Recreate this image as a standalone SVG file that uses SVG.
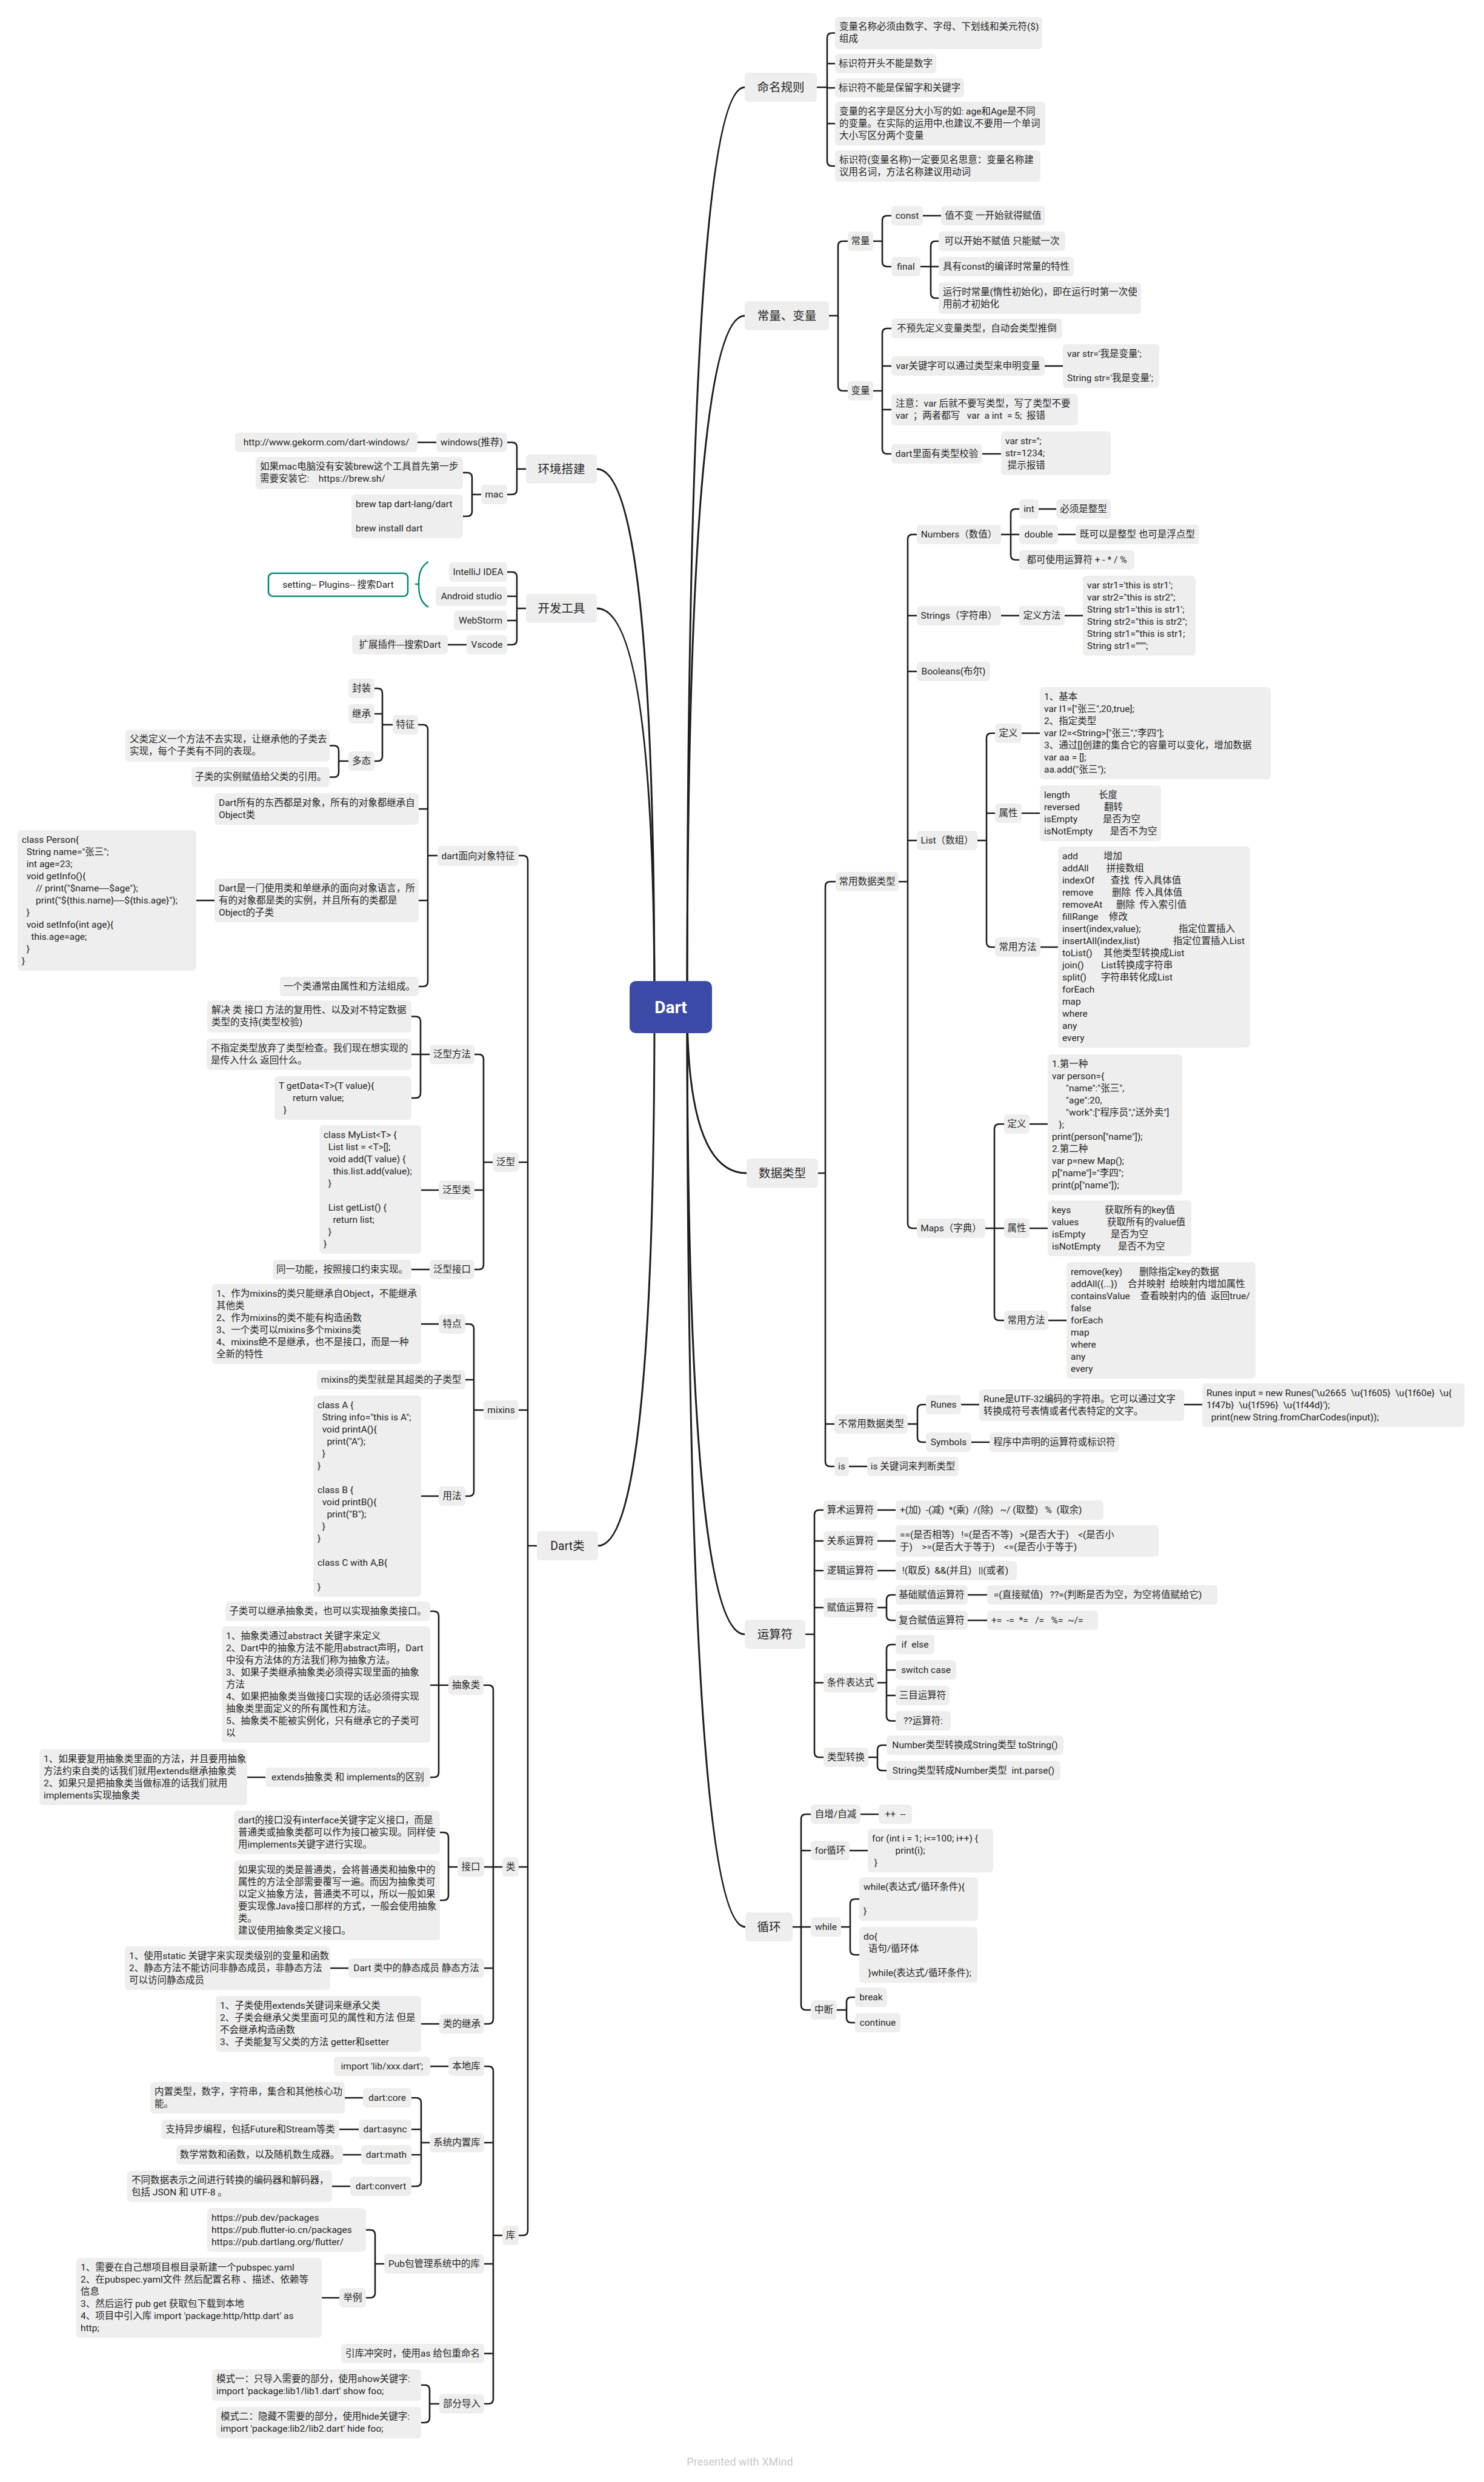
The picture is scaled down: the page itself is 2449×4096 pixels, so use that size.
<svg xmlns="http://www.w3.org/2000/svg" width="2449" height="4096" viewBox="0 0 2449 4096">
<style>
.nodes rect{fill:#eeeeee;rx:6px;ry:6px}
text{font-family:Roboto,"Noto Sans CJK SC",sans-serif;font-size:15.5px;fill:#262626;white-space:pre}
.c{text-anchor:middle}
.l1 text{font-size:19.5px;text-anchor:middle}
.conn path{fill:none;stroke:#1e1e1e;stroke-width:2.6;stroke-linecap:round;stroke-linejoin:round}
.conn .main{stroke-width:3}
</style>
<rect x="0" y="0" width="2449" height="4096" fill="#ffffff"/>
<g class="conn" id="connectors">
<path class="main" d="M1134,1662Q1134,144 1229,144"/>
<path class="main" d="M1134,1662Q1134,521 1229,521"/>
<path class="main" d="M1134,1662Q1134,1936 1232,1936"/>
<path class="main" d="M1134,1662Q1134,2697 1229,2697"/>
<path class="main" d="M1134,1662Q1134,3180 1230,3180"/>
<path class="main" d="M1080,1662Q1080,774 985,774"/>
<path class="main" d="M1080,1662Q1080,1004 985,1004"/>
<path class="main" d="M1080,1662Q1080,2551 987,2551"/>
<path d="M1348,144H1365M1378,54.5H1373Q1365,54.5 1365,62.5V266Q1365,274 1373,274H1378M1365,105H1378M1365,145H1378M1365,204H1378"/>
<path d="M1368,521H1383M1399,398H1391Q1383,398 1383,406V637Q1383,645 1391,645H1399"/>
<path d="M1441,398H1456M1471,356H1464Q1456,356 1456,364V432Q1456,440 1464,440H1471"/>
<path d="M1523,356H1553"/>
<path d="M1519,440H1536M1549,398H1544Q1536,398 1536,406V484Q1536,492 1544,492H1549M1536,440H1549"/>
<path d="M1441,645H1456M1471,542H1464Q1456,542 1456,550V741Q1456,749 1464,749H1471M1456,604H1471M1456,676H1471"/>
<path d="M1724,604H1754M1621,749H1652"/>
<path d="M1350,1936H1362M1379,1455H1370Q1362,1455 1362,1463V2412Q1362,2420 1370,2420H1377M1362,2350H1377"/>
<path d="M1483,1455H1498M1513,882H1506Q1498,882 1498,890V2019Q1498,2027 1506,2027H1513M1498,1016H1513M1498,1108H1513M1498,1387H1513"/>
<path d="M1652,882H1682M1682,840H1676Q1668,840 1668,848V916Q1668,924 1676,924H1682"/>
<path d="M1714,840H1743M1746,882H1775M1652,1016H1682M1757,1016H1787"/>
<path d="M1613,1387H1628M1642,1210H1636Q1628,1210 1628,1218V1555Q1628,1563 1636,1563H1642M1628,1342H1642"/>
<path d="M1686,1210H1716M1686,1342H1716M1717,1563H1746"/>
<path d="M1626,2027H1657M1657,1855H1649Q1641,1855 1641,1863V2171Q1641,2179 1649,2179H1657"/>
<path d="M1699,1855H1729M1699,2027H1729M1730,2179H1760"/>
<path d="M1498,2350H1514M1528,2318H1522Q1514,2318 1514,2326V2372Q1514,2380 1522,2380H1528"/>
<path d="M1586,2318H1616M1954,2318H1984M1603,2380H1633M1401,2420H1431"/>
<path d="M1330,2697H1344M1359,2492H1352Q1344,2492 1344,2500V2892Q1344,2900 1352,2900H1359M1344,2543H1359M1344,2592H1359M1344,2653H1359M1344,2777H1359"/>
<path d="M1448,2492H1478M1448,2543H1478M1448,2592H1478"/>
<path d="M1448,2653H1463M1478,2632H1471Q1463,2632 1463,2640V2666Q1463,2674 1471,2674H1478M1597,2632H1629M1597,2674H1629"/>
<path d="M1448,2777H1463M1478,2714H1471Q1463,2714 1463,2722V2832Q1463,2840 1471,2840H1478M1463,2756H1478M1463,2798H1478"/>
<path d="M1433,2900H1448M1463,2880H1456Q1448,2880 1448,2888V2914Q1448,2922 1456,2922H1463"/>
<path d="M1308,3180H1338M1338,2994H1330Q1322,2994 1322,3002V3309Q1322,3317 1330,3317H1338M1322,3054H1338"/>
<path d="M1420,2994H1450M1402,3054H1432"/>
<path d="M1388,3180H1403M1418,3134H1411Q1403,3134 1403,3142V3218Q1403,3226 1411,3226H1418"/>
<path d="M1381,3317H1397M1411,3296H1405Q1397,3296 1397,3304V3330Q1397,3338 1405,3338H1411"/>
<path d="M868,774H853M837,730H845Q853,730 853,738V808Q853,816 845,816H837M720,730H689"/>
<path d="M794,816H779M764,780H771Q779,780 779,788V844Q779,852 771,852H764"/>
<path d="M868,1004H853M837,944H845Q853,944 853,952V1056Q853,1064 845,1064H837M853,984H837M853,1024H837M770,1064H739"/>
<path d="M886,2551H871M856,1412H863Q871,1412 871,1420V3681Q871,3689 863,3689H856M871,1918H856M871,2327H856M871,3081H856"/>
<path d="M722,1412H706M690,1196H698Q706,1196 706,1204V1620Q706,1628 698,1628H691M706,1335H691M706,1486H691"/>
<path d="M648,1196H631M618,1136H623Q631,1136 631,1144V1248Q631,1256 623,1256H618M631,1178H618"/>
<path d="M575,1256H559M544,1230.5H551Q559,1230.5 559,1238.5V1274.5Q559,1282.5 551,1282.5H544M354,1486H324"/>
<path d="M813,1918H798M783,1740H790Q798,1740 798,1748V2087Q798,2095 790,2095H783M798,1964H783"/>
<path d="M709,1740H679M679,1677.5H686Q694,1677.5 694,1685.5V1804Q694,1812 686,1812H679M724,1964H695M709,2095H679"/>
<path d="M798,2327H782M768,2185H774Q782,2185 782,2193V2461Q782,2469 774,2469H768M782,2277H768M724,2185H695M724,2469H695"/>
<path d="M829,3081H799M798,2781H806Q814,2781 814,2789V3332Q814,3340 806,3340H799M814,3248H799"/>
<path d="M740,2781H710M710,2659H716Q724,2659 724,2667V2925Q724,2933 716,2933H710M438,2933H408"/>
<path d="M755,3081H740M726,3024H732Q740,3024 740,3032V3128Q740,3136 732,3136H726M575,3248H545M725,3340H695"/>
<path d="M829,3689H814M799,3410H806Q814,3410 814,3418V3959Q814,3967 806,3967H799M814,3536H799M814,3736H799M814,3884H799M740,3410H710"/>
<path d="M709,3536H695M679,3462H687Q695,3462 695,3470V3600Q695,3608 687,3608H679M695,3514H679M695,3556H679"/>
<path d="M599,3462H569M592,3514H560M596,3556H566M578,3608H548"/>
<path d="M634,3736H619M604,3680H611Q619,3680 619,3688V3784Q619,3792 611,3792H604M560,3792H531"/>
<path d="M725,3967H709M695,3936H701Q709,3936 709,3944V3990Q709,3998 701,3998H695"/>
</g>
<g id="summary-ide">
<path d="M707,927C693,935 691,950 691,964C691,978 693,994 707,1002M685,964H691" fill="none" stroke="#00897b" stroke-width="2.4"/>
<rect x="443" y="946" width="230" height="38" rx="7" fill="#ffffff" stroke="#00897b" stroke-width="2.6"/>
<text class="c" x="558" y="970">setting-- Plugins-- 搜索Dart</text>
</g>
<g class="nodes">
<g id="root"><rect x="1039" y="1619" width="136" height="86" style="fill:#3a4aa6;rx:10px;ry:10px"/><text x="1107" y="1672" style="fill:#ffffff;font-size:28px;font-weight:bold;text-anchor:middle">Dart</text></g>

<g id="naming" class="l1"><rect x="1229" y="120" width="119" height="48"/><text x="1288.5" y="151">命名规则</text></g>
<g id="naming-1"><rect x="1378" y="28" width="342" height="53"/><text><tspan x="1385" y="49">变量名称必须由数字、字母、下划线和美元符($)</tspan><tspan x="1385" y="69">组成</tspan></text></g>
<g id="naming-2"><rect x="1378" y="89" width="167" height="32"/><text class="c" x="1461.5" y="110">标识符开头不能是数字</text></g>
<g id="naming-3"><rect x="1378" y="129" width="213" height="32"/><text class="c" x="1484.5" y="150">标识符不能是保留字和关键字</text></g>
<g id="naming-4"><rect x="1378" y="168" width="347" height="72"/><text><tspan x="1385" y="189">变量的名字是区分大小写的如: age和Age是不同</tspan><tspan x="1385" y="209">的变量。在实际的运用中,也建议,不要用一个单词</tspan><tspan x="1385" y="229">大小写区分两个变量</tspan></text></g>
<g id="naming-5"><rect x="1378" y="248" width="339" height="52"/><text><tspan x="1385" y="269">标识符(变量名称)一定要见名思意：变量名称建</tspan><tspan x="1385" y="289">议用名词，方法名称建议用动词</tspan></text></g>

<g id="constvar" class="l1"><rect x="1229" y="497" width="139" height="48"/><text x="1298.5" y="528">常量、变量</text></g>
<g id="const-group"><rect x="1399" y="382" width="42" height="32"/><text class="c" x="1420" y="403">常量</text></g>
<g id="const"><rect x="1471" y="340" width="52" height="32"/><text class="c" x="1497" y="361">const</text></g>
<g id="const-1"><rect x="1553" y="340" width="172" height="32"/><text class="c" x="1639" y="361">值不变 一开始就得赋值</text></g>
<g id="final"><rect x="1471" y="424" width="48" height="32"/><text class="c" x="1495" y="445">final</text></g>
<g id="final-1"><rect x="1549" y="382" width="209" height="32"/><text class="c" x="1653.5" y="403">可以开始不赋值 只能赋一次</text></g>
<g id="final-2"><rect x="1549" y="424" width="223" height="32"/><text class="c" x="1660.5" y="445">具有const的编译时常量的特性</text></g>
<g id="final-3"><rect x="1549" y="466" width="334" height="52"/><text><tspan x="1556" y="487">运行时常量(惰性初始化)，即在运行时第一次使</tspan><tspan x="1556" y="507">用前才初始化</tspan></text></g>
<g id="var-group"><rect x="1399" y="629" width="42" height="32"/><text class="c" x="1420" y="650">变量</text></g>
<g id="var-1"><rect x="1471" y="526" width="282" height="32"/><text class="c" x="1612" y="547">不预先定义变量类型，自动会类型推倒</text></g>
<g id="var-2"><rect x="1471" y="588" width="253" height="32"/><text class="c" x="1597.5" y="609">var关键字可以通过类型来申明变量</text></g>
<g id="var-2a"><rect x="1754" y="568" width="159" height="72"/><text><tspan x="1761" y="589">var str='我是变量';</tspan><tspan x="1761" y="629">String str='我是变量';</tspan></text></g>
<g id="var-3"><rect x="1471" y="650" width="308" height="52"/><text><tspan x="1478" y="671">注意：var 后就不要写类型，写了类型不要</tspan><tspan x="1478" y="691">var  ；两者都写   var  a int  = 5;  报错</tspan></text></g>
<g id="var-4"><rect x="1471" y="733" width="150" height="32"/><text class="c" x="1546" y="754">dart里面有类型校验</text></g>
<g id="var-4a"><rect x="1652" y="712" width="181" height="72"/><text><tspan x="1659" y="733">var str='';</tspan><tspan x="1659" y="753">str=1234;</tspan><tspan x="1659" y="773"> 提示报错</tspan></text></g>

<g id="datatype" class="l1"><rect x="1232" y="1912" width="118" height="48"/><text x="1291" y="1943">数据类型</text></g>
<g id="common-types"><rect x="1379" y="1439" width="104" height="32"/><text class="c" x="1431" y="1460">常用数据类型</text></g>
<g id="numbers"><rect x="1513" y="866" width="139" height="32"/><text class="c" x="1582.5" y="887">Numbers（数值）</text></g>
<g id="int"><rect x="1682" y="824" width="32" height="32"/><text class="c" x="1698" y="845">int</text></g>
<g id="int-1"><rect x="1743" y="824" width="90" height="32"/><text class="c" x="1788" y="845">必须是整型</text></g>
<g id="double"><rect x="1682" y="866" width="64" height="32"/><text class="c" x="1714" y="887">double</text></g>
<g id="double-1"><rect x="1775" y="866" width="204" height="32"/><text class="c" x="1877" y="887">既可以是整型 也可是浮点型</text></g>
<g id="num-ops"><rect x="1682" y="908" width="190" height="32"/><text class="c" x="1777" y="929">都可使用运算符 + - * / %</text></g>
<g id="strings"><rect x="1513" y="1000" width="139" height="32"/><text class="c" x="1582.5" y="1021">Strings（字符串）</text></g>
<g id="str-def"><rect x="1682" y="1000" width="75" height="32"/><text class="c" x="1719.5" y="1021">定义方法</text></g>
<g id="str-def-1"><rect x="1787" y="950" width="186" height="132"/><text><tspan x="1794" y="971">var str1='this is str1';</tspan><tspan x="1794" y="991">var str2="this is str2";</tspan><tspan x="1794" y="1011">String str1='this is str1';</tspan><tspan x="1794" y="1031">String str2="this is str2";</tspan><tspan x="1794" y="1051">String str1='''this is str1;</tspan><tspan x="1794" y="1071">String str1="""";</tspan></text></g>
<g id="booleans"><rect x="1513" y="1092" width="121" height="32"/><text class="c" x="1573.5" y="1113">Booleans(布尔)</text></g>
<g id="list"><rect x="1513" y="1371" width="100" height="32"/><text class="c" x="1563" y="1392">List（数组）</text></g>
<g id="list-def"><rect x="1642" y="1194" width="44" height="32"/><text class="c" x="1664" y="1215">定义</text></g>
<g id="list-def-1"><rect x="1716" y="1134" width="381" height="152"/><text><tspan x="1723" y="1155">1、基本</tspan><tspan x="1723" y="1175">var l1=["张三",20,true];</tspan><tspan x="1723" y="1195">2、指定类型</tspan><tspan x="1723" y="1215">var l2=&lt;String&gt;["张三","李四"];</tspan><tspan x="1723" y="1235">3、通过[]创建的集合它的容量可以变化，增加数据</tspan><tspan x="1723" y="1255">var aa = [];</tspan><tspan x="1723" y="1275">aa.add("张三");</tspan></text></g>
<g id="list-attr"><rect x="1642" y="1326" width="44" height="32"/><text class="c" x="1664" y="1347">属性</text></g>
<g id="list-attr-1"><rect x="1716" y="1296" width="200" height="92"/><text><tspan x="1723" y="1317">length</tspan><tspan x="1813" y="1317">长度</tspan><tspan x="1723" y="1337">reversed</tspan><tspan x="1822" y="1337">翻转</tspan><tspan x="1723" y="1357">isEmpty</tspan><tspan x="1820" y="1357">是否为空</tspan><tspan x="1723" y="1377">isNotEmpty</tspan><tspan x="1832" y="1377">是否不为空</tspan></text></g>
<g id="list-methods"><rect x="1642" y="1547" width="75" height="32"/><text class="c" x="1679.5" y="1568">常用方法</text></g>
<g id="list-methods-1"><rect x="1746" y="1397" width="317" height="332"/><text><tspan x="1753" y="1418">add</tspan><tspan x="1821" y="1418">增加</tspan><tspan x="1753" y="1438">addAll</tspan><tspan x="1826" y="1438">拼接数组</tspan><tspan x="1753" y="1458">indexOf</tspan><tspan x="1833" y="1458">查找  传入具体值</tspan><tspan x="1753" y="1478">remove</tspan><tspan x="1835" y="1478">删除  传入具体值</tspan><tspan x="1753" y="1498">removeAt</tspan><tspan x="1842" y="1498">删除  传入索引值</tspan><tspan x="1753" y="1518">fillRange</tspan><tspan x="1830" y="1518">修改</tspan><tspan x="1753" y="1538">insert(index,value);</tspan><tspan x="1945" y="1538">指定位置插入</tspan><tspan x="1753" y="1558">insertAll(index,list)</tspan><tspan x="1936" y="1558">指定位置插入List</tspan><tspan x="1753" y="1578">toList()</tspan><tspan x="1821" y="1578">其他类型转换成List</tspan><tspan x="1753" y="1598">join()</tspan><tspan x="1817" y="1598">List转换成字符串</tspan><tspan x="1753" y="1618">split()</tspan><tspan x="1817" y="1618">字符串转化成List</tspan><tspan x="1753" y="1638">forEach</tspan><tspan x="1753" y="1658">map</tspan><tspan x="1753" y="1678">where</tspan><tspan x="1753" y="1698">any</tspan><tspan x="1753" y="1718">every</tspan></text></g>
<g id="maps"><rect x="1513" y="2011" width="113" height="32"/><text class="c" x="1569.5" y="2032">Maps（字典）</text></g>
<g id="maps-def"><rect x="1657" y="1839" width="42" height="32"/><text class="c" x="1678" y="1860">定义</text></g>
<g id="maps-def-1"><rect x="1729" y="1740" width="222" height="232"/><text><tspan x="1736" y="1761">1.第一种</tspan><tspan x="1736" y="1781">var person={</tspan><tspan x="1736" y="1801">      "name":"张三",</tspan><tspan x="1736" y="1821">      "age":20,</tspan><tspan x="1736" y="1841">      "work":["程序员","送外卖"]</tspan><tspan x="1736" y="1861">   };</tspan><tspan x="1736" y="1881">print(person["name"]);</tspan><tspan x="1736" y="1901">2.第二种</tspan><tspan x="1736" y="1921">var p=new Map();</tspan><tspan x="1736" y="1941">p["name"]="李四";</tspan><tspan x="1736" y="1961">print(p["name"]);</tspan></text></g>
<g id="maps-attr"><rect x="1657" y="2011" width="42" height="32"/><text class="c" x="1678" y="2032">属性</text></g>
<g id="maps-attr-1"><rect x="1729" y="1981" width="237" height="92"/><text><tspan x="1736" y="2002">keys</tspan><tspan x="1823" y="2002">获取所有的key值</tspan><tspan x="1736" y="2022">values</tspan><tspan x="1827" y="2022">获取所有的value值</tspan><tspan x="1736" y="2042">isEmpty</tspan><tspan x="1833" y="2042">是否为空</tspan><tspan x="1736" y="2062">isNotEmpty</tspan><tspan x="1845" y="2062">是否不为空</tspan></text></g>
<g id="maps-methods"><rect x="1657" y="2163" width="73" height="32"/><text class="c" x="1693.5" y="2184">常用方法</text></g>
<g id="maps-methods-1"><rect x="1760" y="2083" width="312" height="192"/><text><tspan x="1767" y="2104">remove(key)</tspan><tspan x="1880" y="2104">删除指定key的数据</tspan><tspan x="1767" y="2124">addAll({...})</tspan><tspan x="1861" y="2124">合并映射  给映射内增加属性</tspan><tspan x="1767" y="2144">containsValue</tspan><tspan x="1882" y="2144">查看映射内的值  返回true/</tspan><tspan x="1767" y="2164">false</tspan><tspan x="1767" y="2184">forEach</tspan><tspan x="1767" y="2204">map</tspan><tspan x="1767" y="2224">where</tspan><tspan x="1767" y="2244">any</tspan><tspan x="1767" y="2264">every</tspan></text></g>
<g id="rare-types"><rect x="1377" y="2334" width="121" height="32"/><text class="c" x="1437.5" y="2355">不常用数据类型</text></g>
<g id="runes"><rect x="1528" y="2302" width="58" height="32"/><text class="c" x="1557" y="2323">Runes</text></g>
<g id="runes-1"><rect x="1616" y="2293" width="338" height="52"/><text><tspan x="1623" y="2314">Rune是UTF-32编码的字符串。它可以通过文字</tspan><tspan x="1623" y="2334">转换成符号表情或者代表特定的文字。</tspan></text></g>
<g id="runes-2"><rect x="1984" y="2283" width="433" height="72"/><text><tspan x="1991" y="2304">Runes input = new Runes('\u2665  \u{1f605}  \u{1f60e}  \u{</tspan><tspan x="1991" y="2324">1f47b}  \u{1f596}  \u{1f44d}');</tspan><tspan x="1991" y="2344">  print(new String.fromCharCodes(input));</tspan></text></g>
<g id="symbols"><rect x="1528" y="2364" width="75" height="32"/><text class="c" x="1565.5" y="2385">Symbols</text></g>
<g id="symbols-1"><rect x="1633" y="2364" width="214" height="32"/><text class="c" x="1740" y="2385">程序中声明的运算符或标识符</text></g>
<g id="is"><rect x="1377" y="2404" width="24" height="32"/><text class="c" x="1389" y="2425">is</text></g>
<g id="is-1"><rect x="1431" y="2404" width="151" height="32"/><text class="c" x="1506.5" y="2425">is 关键词来判断类型</text></g>

<g id="operators" class="l1"><rect x="1229" y="2673" width="100" height="48"/><text x="1279" y="2704">运算符</text></g>
<g id="op-arith"><rect x="1359" y="2476" width="89" height="32"/><text class="c" x="1403.5" y="2497">算术运算符</text></g>
<g id="op-arith-1"><rect x="1478" y="2476" width="343" height="32"/><text x="1485" y="2497">+(加)  -(减)  *(乘)  /(除)   ~/ (取整)   %  (取余)</text></g>
<g id="op-rel"><rect x="1359" y="2527" width="89" height="32"/><text class="c" x="1403.5" y="2548">关系运算符</text></g>
<g id="op-rel-1"><rect x="1478" y="2517" width="434" height="52"/><text><tspan x="1485" y="2538">==(是否相等)   !=(是否不等)   &gt;(是否大于)    &lt;(是否小</tspan><tspan x="1485" y="2558">于)    &gt;=(是否大于等于)    &lt;=(是否小于等于)</tspan></text></g>
<g id="op-logic"><rect x="1359" y="2576" width="89" height="32"/><text class="c" x="1403.5" y="2597">逻辑运算符</text></g>
<g id="op-logic-1"><rect x="1478" y="2576" width="200" height="32"/><text x="1485" y="2597"> !(取反)  &amp;&amp;(并且)   ||(或者)</text></g>
<g id="op-assign"><rect x="1359" y="2637" width="89" height="32"/><text class="c" x="1403.5" y="2658">赋值运算符</text></g>
<g id="op-assign-basic"><rect x="1478" y="2616" width="119" height="32"/><text class="c" x="1537.5" y="2637">基础赋值运算符</text></g>
<g id="op-assign-basic-1"><rect x="1629" y="2616" width="380" height="32"/><text x="1636" y="2637"> =(直接赋值)   ??=(判断是否为空，为空将值赋给它)</text></g>
<g id="op-assign-comp"><rect x="1478" y="2658" width="119" height="32"/><text class="c" x="1537.5" y="2679">复合赋值运算符</text></g>
<g id="op-assign-comp-1"><rect x="1629" y="2658" width="183" height="32"/><text x="1636" y="2679">+=  -=  *=   /=   %=  ~/=</text></g>
<g id="op-cond"><rect x="1359" y="2761" width="89" height="32"/><text class="c" x="1403.5" y="2782">条件表达式</text></g>
<g id="op-cond-1"><rect x="1478" y="2698" width="64" height="32"/><text class="c" x="1510" y="2719">if  else</text></g>
<g id="op-cond-2"><rect x="1478" y="2740" width="100" height="32"/><text class="c" x="1528" y="2761">switch case</text></g>
<g id="op-cond-3"><rect x="1478" y="2782" width="89" height="32"/><text class="c" x="1522.5" y="2803">三目运算符</text></g>
<g id="op-cond-4"><rect x="1478" y="2824" width="91" height="32"/><text class="c" x="1523.5" y="2845">??运算符:</text></g>
<g id="op-conv"><rect x="1359" y="2884" width="74" height="32"/><text class="c" x="1396" y="2905">类型转换</text></g>
<g id="op-conv-1"><rect x="1463" y="2864" width="292" height="32"/><text class="c" x="1609" y="2885">Number类型转换成String类型 toString()</text></g>
<g id="op-conv-2"><rect x="1463" y="2906" width="287" height="32"/><text class="c" x="1606.5" y="2927">String类型转成Number类型  int.parse()</text></g>

<g id="loop" class="l1"><rect x="1230" y="3156" width="78" height="48"/><text x="1269" y="3187">循环</text></g>
<g id="loop-inc"><rect x="1338" y="2978" width="82" height="32"/><text class="c" x="1379" y="2999">自增/自减</text></g>
<g id="loop-inc-1"><rect x="1450" y="2978" width="55" height="32"/><text class="c" x="1477.5" y="2999">++  --</text></g>
<g id="loop-for"><rect x="1338" y="3038" width="64" height="32"/><text class="c" x="1370" y="3059">for循环</text></g>
<g id="loop-for-1"><rect x="1432" y="3018" width="207" height="72"/><text><tspan x="1439" y="3039">for (int i = 1; i&lt;=100; i++) {</tspan><tspan x="1439" y="3059">          print(i);</tspan><tspan x="1439" y="3079"> }</tspan></text></g>
<g id="loop-while"><rect x="1338" y="3164" width="50" height="32"/><text class="c" x="1363" y="3185">while</text></g>
<g id="loop-while-1"><rect x="1418" y="3098" width="196" height="72"/><text><tspan x="1425" y="3119">while(表达式/循环条件){</tspan><tspan x="1425" y="3159">}</tspan></text></g>
<g id="loop-while-2"><rect x="1418" y="3180" width="195" height="92"/><text><tspan x="1425" y="3201">do{</tspan><tspan x="1425" y="3221">  语句/循环体</tspan><tspan x="1425" y="3261">  }while(表达式/循环条件);</tspan></text></g>
<g id="loop-break"><rect x="1338" y="3301" width="43" height="32"/><text class="c" x="1359.5" y="3322">中断</text></g>
<g id="loop-break-1"><rect x="1411" y="3280" width="53" height="32"/><text class="c" x="1437.5" y="3301">break</text></g>
<g id="loop-break-2"><rect x="1411" y="3322" width="75" height="32"/><text class="c" x="1448.5" y="3343">continue</text></g>

<g id="env" class="l1"><rect x="868" y="750" width="117" height="48"/><text x="926.5" y="781">环境搭建</text></g>
<g id="env-win"><rect x="720" y="714" width="117" height="32"/><text class="c" x="778.5" y="735">windows(推荐)</text></g>
<g id="env-win-1"><rect x="388" y="714" width="301" height="32"/><text class="c" x="538.5" y="735">http://www.gekorm.com/dart-windows/</text></g>
<g id="env-mac"><rect x="794" y="800" width="43" height="32"/><text class="c" x="815.5" y="821">mac</text></g>
<g id="env-mac-1"><rect x="422" y="754" width="342" height="53"/><text><tspan x="429" y="775">如果mac电脑没有安装brew这个工具首先第一步</tspan><tspan x="429" y="795">需要安装它:    https://brew.sh/</tspan></text></g>
<g id="env-mac-2"><rect x="580" y="816" width="184" height="72"/><text><tspan x="587" y="837">brew tap dart-lang/dart</tspan><tspan x="587" y="877">brew install dart</tspan></text></g>

<g id="ide" class="l1"><rect x="868" y="980" width="117" height="48"/><text x="926.5" y="1011">开发工具</text></g>
<g id="ide-idea"><rect x="741" y="928" width="96" height="32"/><text class="c" x="789" y="949">IntelliJ IDEA</text></g>
<g id="ide-as"><rect x="719" y="968" width="118" height="32"/><text class="c" x="778" y="989">Android studio</text></g>
<g id="ide-ws"><rect x="749" y="1008" width="88" height="32"/><text class="c" x="793" y="1029">WebStorm</text></g>
<g id="ide-vs"><rect x="770" y="1048" width="67" height="32"/><text class="c" x="803.5" y="1069">Vscode</text></g>
<g id="ide-vs-1"><rect x="581" y="1048" width="158" height="32"/><text class="c" x="660" y="1069">扩展插件---搜索Dart</text></g>

<g id="dartclass" class="l1"><rect x="886" y="2527" width="101" height="48"/><text x="936.5" y="2558">Dart类</text></g>
<g id="oop"><rect x="722" y="1396" width="134" height="33"/><text class="c" x="789" y="1418">dart面向对象特征</text></g>
<g id="oop-feat"><rect x="648" y="1180" width="42" height="32"/><text class="c" x="669" y="1201">特征</text></g>
<g id="oop-feat-1"><rect x="575" y="1120" width="43" height="32"/><text class="c" x="596.5" y="1141">封装</text></g>
<g id="oop-feat-2"><rect x="575" y="1162" width="43" height="32"/><text class="c" x="596.5" y="1183">继承</text></g>
<g id="oop-feat-3"><rect x="575" y="1240" width="43" height="32"/><text class="c" x="596.5" y="1261">多态</text></g>
<g id="oop-poly-1"><rect x="207" y="1204" width="337" height="53"/><text><tspan x="214" y="1225">父类定义一个方法不去实现，让继承他的子类去</tspan><tspan x="214" y="1245">实现，每个子类有不同的表现。</tspan></text></g>
<g id="oop-poly-2"><rect x="316" y="1266" width="228" height="33"/><text class="c" x="430" y="1287">子类的实例赋值给父类的引用。</text></g>
<g id="oop-2"><rect x="354" y="1309" width="337" height="52"/><text><tspan x="361" y="1330">Dart所有的东西都是对象，所有的对象都继承自</tspan><tspan x="361" y="1350">Object类</tspan></text></g>
<g id="oop-3"><rect x="354" y="1450" width="337" height="72"/><text><tspan x="361" y="1471">Dart是一门使用类和单继承的面向对象语言，所</tspan><tspan x="361" y="1491">有的对象都是类的实例，并且所有的类都是</tspan><tspan x="361" y="1511">Object的子类</tspan></text></g>
<g id="oop-3a"><rect x="29" y="1370" width="295" height="232"/><text><tspan x="36" y="1391">class Person{</tspan><tspan x="36" y="1411">  String name="张三";</tspan><tspan x="36" y="1431">  int age=23;</tspan><tspan x="36" y="1451">  void getInfo(){</tspan><tspan x="36" y="1471">      // print("$name----$age");</tspan><tspan x="36" y="1491">      print("${this.name}----${this.age}");</tspan><tspan x="36" y="1511">  }</tspan><tspan x="36" y="1531">  void setInfo(int age){</tspan><tspan x="36" y="1551">    this.age=age;</tspan><tspan x="36" y="1571">  }</tspan><tspan x="36" y="1591">}</tspan></text></g>
<g id="oop-4"><rect x="462" y="1612" width="229" height="32"/><text class="c" x="576.5" y="1633">一个类通常由属性和方法组成。</text></g>

<g id="generic"><rect x="813" y="1902" width="43" height="32"/><text class="c" x="834.5" y="1923">泛型</text></g>
<g id="gen-method"><rect x="709" y="1724" width="74" height="32"/><text class="c" x="746" y="1745">泛型方法</text></g>
<g id="gen-method-1"><rect x="342" y="1651" width="337" height="53"/><text><tspan x="349" y="1672">解决 类 接口 方法的复用性、以及对不特定数据</tspan><tspan x="349" y="1692">类型的支持(类型校验)</tspan></text></g>
<g id="gen-method-2"><rect x="341" y="1714" width="338" height="52"/><text><tspan x="348" y="1735">不指定类型放弃了类型检查。我们现在想实现的</tspan><tspan x="348" y="1755">是传入什么 返回什么。</tspan></text></g>
<g id="gen-method-3"><rect x="453" y="1776" width="226" height="72"/><text><tspan x="460" y="1797">T getData&lt;T&gt;(T value){</tspan><tspan x="460" y="1817">      return value;</tspan><tspan x="460" y="1837">  }</tspan></text></g>
<g id="gen-class"><rect x="724" y="1948" width="59" height="32"/><text class="c" x="753.5" y="1969">泛型类</text></g>
<g id="gen-class-1"><rect x="527" y="1857" width="168" height="212"/><text><tspan x="534" y="1878">class MyList&lt;T&gt; {</tspan><tspan x="534" y="1898">  List list = &lt;T&gt;[];</tspan><tspan x="534" y="1918">  void add(T value) {</tspan><tspan x="534" y="1938">    this.list.add(value);</tspan><tspan x="534" y="1958">  }</tspan><tspan x="534" y="1998">  List getList() {</tspan><tspan x="534" y="2018">    return list;</tspan><tspan x="534" y="2038">  }</tspan><tspan x="534" y="2058">}</tspan></text></g>
<g id="gen-iface"><rect x="709" y="2079" width="74" height="32"/><text class="c" x="746" y="2100">泛型接口</text></g>
<g id="gen-iface-1"><rect x="450" y="2079" width="229" height="32"/><text class="c" x="564.5" y="2100">同一功能，按照接口约束实现。</text></g>

<g id="mixins"><rect x="798" y="2311" width="58" height="32"/><text class="c" x="827" y="2332">mixins</text></g>
<g id="mix-feat"><rect x="724" y="2169" width="44" height="32"/><text class="c" x="746" y="2190">特点</text></g>
<g id="mix-feat-1"><rect x="350" y="2119" width="345" height="132"/><text><tspan x="357" y="2140">1、作为mixins的类只能继承自Object，不能继承</tspan><tspan x="357" y="2160">其他类</tspan><tspan x="357" y="2180">2、作为mixins的类不能有构造函数</tspan><tspan x="357" y="2200">3、一个类可以mixins多个mixins类</tspan><tspan x="357" y="2220">4、mixins绝不是继承，也不是接口，而是一种</tspan><tspan x="357" y="2240">全新的特性</tspan></text></g>
<g id="mix-type"><rect x="523" y="2261" width="245" height="32"/><text class="c" x="645.5" y="2282">mixins的类型就是其超类的子类型</text></g>
<g id="mix-use"><rect x="724" y="2453" width="44" height="32"/><text class="c" x="746" y="2474">用法</text></g>
<g id="mix-use-1"><rect x="517" y="2303" width="178" height="332"/><text><tspan x="524" y="2324">class A {</tspan><tspan x="524" y="2344">  String info="this is A";</tspan><tspan x="524" y="2364">  void printA(){</tspan><tspan x="524" y="2384">    print("A");</tspan><tspan x="524" y="2404">  }</tspan><tspan x="524" y="2424">}</tspan><tspan x="524" y="2464">class B {</tspan><tspan x="524" y="2484">  void printB(){</tspan><tspan x="524" y="2504">    print("B");</tspan><tspan x="524" y="2524">  }</tspan><tspan x="524" y="2544">}</tspan><tspan x="524" y="2584">class C with A,B{</tspan><tspan x="524" y="2624">}</tspan></text></g>

<g id="cls"><rect x="829" y="3065" width="27" height="32"/><text class="c" x="842.5" y="3086">类</text></g>
<g id="abstract"><rect x="740" y="2765" width="58" height="32"/><text class="c" x="769" y="2786">抽象类</text></g>
<g id="abstract-1"><rect x="372" y="2643" width="338" height="32"/><text class="c" x="541" y="2664">子类可以继承抽象类，也可以实现抽象类接口。</text></g>
<g id="abstract-2"><rect x="366" y="2684" width="344" height="192"/><text><tspan x="373" y="2705">1、抽象类通过abstract 关键字来定义</tspan><tspan x="373" y="2725">2、Dart中的抽象方法不能用abstract声明，Dart</tspan><tspan x="373" y="2745">中没有方法体的方法我们称为抽象方法。</tspan><tspan x="373" y="2765">3、如果子类继承抽象类必须得实现里面的抽象</tspan><tspan x="373" y="2785">方法</tspan><tspan x="373" y="2805">4、如果把抽象类当做接口实现的话必须得实现</tspan><tspan x="373" y="2825">抽象类里面定义的所有属性和方法。</tspan><tspan x="373" y="2845">5、抽象类不能被实例化，只有继承它的子类可</tspan><tspan x="373" y="2865">以</tspan></text></g>
<g id="abstract-3"><rect x="438" y="2917" width="272" height="32"/><text class="c" x="574" y="2938">extends抽象类 和 implements的区别</text></g>
<g id="abstract-3a"><rect x="65" y="2887" width="343" height="92"/><text><tspan x="72" y="2908">1、如果要复用抽象类里面的方法，并且要用抽象</tspan><tspan x="72" y="2928">方法约束自类的话我们就用extends继承抽象类</tspan><tspan x="72" y="2948">2、如果只是把抽象类当做标准的话我们就用</tspan><tspan x="72" y="2968">implements实现抽象类</tspan></text></g>
<g id="iface"><rect x="755" y="3065" width="44" height="32"/><text class="c" x="777" y="3086">接口</text></g>
<g id="iface-1"><rect x="386" y="2988" width="340" height="72"/><text><tspan x="393" y="3009">dart的接口没有interface关键字定义接口，而是</tspan><tspan x="393" y="3029">普通类或抽象类都可以作为接口被实现。同样使</tspan><tspan x="393" y="3049">用implements关键字进行实现。</tspan></text></g>
<g id="iface-2"><rect x="386" y="3070" width="340" height="132"/><text><tspan x="393" y="3091">如果实现的类是普通类，会将普通类和抽象中的</tspan><tspan x="393" y="3111">属性的方法全部需要覆写一遍。而因为抽象类可</tspan><tspan x="393" y="3131">以定义抽象方法，普通类不可以，所以一般如果</tspan><tspan x="393" y="3151">要实现像Java接口那样的方式，一般会使用抽象</tspan><tspan x="393" y="3171">类。</tspan><tspan x="393" y="3191">建议使用抽象类定义接口。</tspan></text></g>
<g id="static"><rect x="575" y="3232" width="224" height="32"/><text class="c" x="687" y="3253">Dart 类中的静态成员 静态方法</text></g>
<g id="static-1"><rect x="206" y="3212" width="339" height="72"/><text><tspan x="213" y="3233">1、使用static 关键字来实现类级别的变量和函数</tspan><tspan x="213" y="3253">2、静态方法不能访问非静态成员，非静态方法</tspan><tspan x="213" y="3273">可以访问静态成员</tspan></text></g>
<g id="inherit"><rect x="725" y="3324" width="74" height="32"/><text class="c" x="762" y="3345">类的继承</text></g>
<g id="inherit-1"><rect x="356" y="3294" width="339" height="92"/><text><tspan x="363" y="3315">1、子类使用extends关键词来继承父类</tspan><tspan x="363" y="3335">2、子类会继承父类里面可见的属性和方法 但是</tspan><tspan x="363" y="3355">不会继承构造函数</tspan><tspan x="363" y="3375">3、子类能复写父类的方法 getter和setter</tspan></text></g>

<g id="lib"><rect x="829" y="3673" width="27" height="32"/><text class="c" x="842.5" y="3694">库</text></g>
<g id="lib-local"><rect x="740" y="3394" width="59" height="32"/><text class="c" x="769.5" y="3415">本地库</text></g>
<g id="lib-local-1"><rect x="551" y="3394" width="159" height="32"/><text class="c" x="630.5" y="3415">import 'lib/xxx.dart';</text></g>
<g id="lib-sys"><rect x="709" y="3520" width="90" height="32"/><text class="c" x="754" y="3541">系统内置库</text></g>
<g id="lib-core"><rect x="599" y="3446" width="80" height="32"/><text class="c" x="639" y="3467">dart:core</text></g>
<g id="lib-core-1"><rect x="248" y="3436" width="321" height="52"/><text><tspan x="255" y="3457">内置类型，数字，字符串，集合和其他核心功</tspan><tspan x="255" y="3477">能。</tspan></text></g>
<g id="lib-async"><rect x="592" y="3498" width="87" height="32"/><text class="c" x="635.5" y="3519">dart:async</text></g>
<g id="lib-async-1"><rect x="266" y="3498" width="294" height="32"/><text class="c" x="413" y="3519">支持异步编程，包括Future和Stream等类</text></g>
<g id="lib-math"><rect x="596" y="3540" width="83" height="32"/><text class="c" x="637.5" y="3561">dart:math</text></g>
<g id="lib-math-1"><rect x="291" y="3540" width="275" height="32"/><text class="c" x="428.5" y="3561">数学常数和函数，以及随机数生成器。</text></g>
<g id="lib-convert"><rect x="578" y="3592" width="101" height="32"/><text class="c" x="628.5" y="3613">dart:convert</text></g>
<g id="lib-convert-1"><rect x="210" y="3582" width="338" height="52"/><text><tspan x="217" y="3603">不同数据表示之间进行转换的编码器和解码器，</tspan><tspan x="217" y="3623">包括 JSON 和 UTF-8 。</tspan></text></g>
<g id="lib-pub"><rect x="634" y="3720" width="165" height="32"/><text class="c" x="716.5" y="3741">Pub包管理系统中的库</text></g>
<g id="lib-pub-1"><rect x="342" y="3644" width="262" height="72"/><text><tspan x="349" y="3665">https://pub.dev/packages</tspan><tspan x="349" y="3685">https://pub.flutter-io.cn/packages</tspan><tspan x="349" y="3705">https://pub.dartlang.org/flutter/</tspan></text></g>
<g id="lib-pub-2"><rect x="560" y="3776" width="44" height="32"/><text class="c" x="582" y="3797">举例</text></g>
<g id="lib-pub-2a"><rect x="126" y="3726" width="405" height="132"/><text><tspan x="133" y="3747">1、需要在自己想项目根目录新建一个pubspec.yaml</tspan><tspan x="133" y="3767">2、在pubspec.yaml文件 然后配置名称 、描述、依赖等</tspan><tspan x="133" y="3787">信息</tspan><tspan x="133" y="3807">3、然后运行 pub get 获取包下载到本地</tspan><tspan x="133" y="3827">4、项目中引入库 import 'package:http/http.dart' as</tspan><tspan x="133" y="3847">http;</tspan></text></g>
<g id="lib-as"><rect x="563" y="3868" width="236" height="32"/><text class="c" x="681" y="3889">引库冲突时，使用as 给包重命名</text></g>
<g id="lib-part"><rect x="725" y="3951" width="74" height="32"/><text class="c" x="762" y="3972">部分导入</text></g>
<g id="lib-part-1"><rect x="350" y="3910" width="345" height="52"/><text><tspan x="357" y="3931">模式一：只导入需要的部分，使用show关键字:</tspan><tspan x="357" y="3951">import 'package:lib1/lib1.dart' show foo;</tspan></text></g>
<g id="lib-part-2"><rect x="357" y="3972" width="338" height="52"/><text><tspan x="364" y="3993">模式二：隐藏不需要的部分，使用hide关键字:</tspan><tspan x="364" y="4013">import 'package:lib2/lib2.dart' hide foo;</tspan></text></g>
</g>
<text x="1221" y="4069" style="font-size:18px;fill:#c9c9c9;text-anchor:middle">Presented with XMind</text>
</svg>
